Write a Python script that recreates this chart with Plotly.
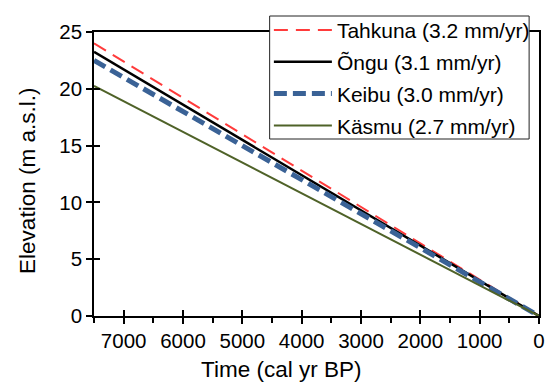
import plotly.graph_objects as go

# Data: elevation at 7500 cal yr BP and at present
time_bp = [7500, 0]
tahkuna = [24.0, 0.0]
ongu = [23.25, 0.0]
keibu = [22.5, 0.0]
kasmu = [20.25, 0.0]

names = ["Tahkuna (3.2 mm/yr)", "Õngu (3.1 mm/yr)", "Keibu (3.0 mm/yr)", "Käsmu (2.7 mm/yr)"]
series = [tahkuna, ongu, keibu, kasmu]
colors = ["#ff3b3b", "#000000", "#3a6296", "#4f6228"]
widths = [2, 2.5, 5, 2]
dashes = ["14px,8px", "solid", "13px,6px", "solid"]

FONT = "Liberation Sans"

fig = go.Figure()
for i, (n, s) in enumerate(zip(names, series)):
    fig.add_trace(go.Scatter(
        x=time_bp, y=s, mode="lines", name=n, legendgroup=f"g{i}",
        line=dict(color=colors[i], width=widths[i], dash=dashes[i]),
    ))

# helper overlay trace to draw inward halves of the cross ticks
fig.add_trace(go.Scatter(x=[None], y=[None], xaxis="x2", yaxis="y2",
                         showlegend=False, hoverinfo="skip"))

fig.update_layout(
    width=552, height=383,
    margin=dict(l=94, r=7, t=32, b=67),
    paper_bgcolor="white", plot_bgcolor="white",
    font=dict(family=FONT, color="black"),
    showlegend=True,
    legend=dict(
        x=0.393, y=1.078, xanchor="left", yanchor="top",
        bgcolor="rgba(0,0,0,0)", borderwidth=0,
        font=dict(size=21, family=FONT),
        traceorder="grouped", tracegroupgap=1.5, itemwidth=58,
    ),
    shapes=[
        dict(type="rect", xref="paper", yref="paper",
             x0=0.3947, x1=0.9778, y0=0.6232, y1=1.0563,
             fillcolor="white", line=dict(color="#222222", width=1), layer="above"),
    ],
    xaxis=dict(
        range=[7500, 0], tickmode="linear", tick0=0, dtick=1000,
        ticks="outside", ticklen=6, tickwidth=1.5, tickcolor="black",
        showline=True, linecolor="black", linewidth=1.5, mirror=True,
        showgrid=False, zeroline=False,
        tickfont=dict(size=20.5, family=FONT),
        minor=dict(ticks="outside", ticklen=5, tickwidth=1.5, tickcolor="black",
                   tick0=0, dtick=500, showgrid=False),
    ),
    yaxis=dict(
        range=[0, 25], tickmode="linear", tick0=0, dtick=5,
        ticks="outside", ticklen=6, tickwidth=1.5, tickcolor="black",
        showline=True, linecolor="black", linewidth=1.5, mirror=True,
        showgrid=False, zeroline=False,
        tickfont=dict(size=20.5, family=FONT),
    ),
    xaxis2=dict(
        overlaying="x", anchor="y2", range=[7500, 0], tickmode="linear", tick0=0, dtick=1000,
        ticks="inside", ticklen=6, tickwidth=1.5, tickcolor="black",
        showticklabels=False, showline=False, showgrid=False, zeroline=False,
    ),
    yaxis2=dict(
        overlaying="y", anchor="x2", range=[0, 25], tickmode="linear", tick0=0, dtick=5,
        ticks="inside", ticklen=6, tickwidth=1.5, tickcolor="black",
        showticklabels=False, showline=False, showgrid=False, zeroline=False,
    ),
    annotations=[
        dict(text="Time (cal yr BP)", xref="paper", yref="paper", x=0.421, y=-0.19,
             xanchor="center", yanchor="middle", showarrow=False,
             font=dict(size=22.5, family=FONT)),
        dict(text="Elevation (m a.s.l.)", xref="paper", yref="paper", x=-0.151, y=0.475,
             xanchor="center", yanchor="middle", showarrow=False, textangle=-90,
             font=dict(size=22.5, family=FONT)),
    ],
)

fig.write_html("out.html")
